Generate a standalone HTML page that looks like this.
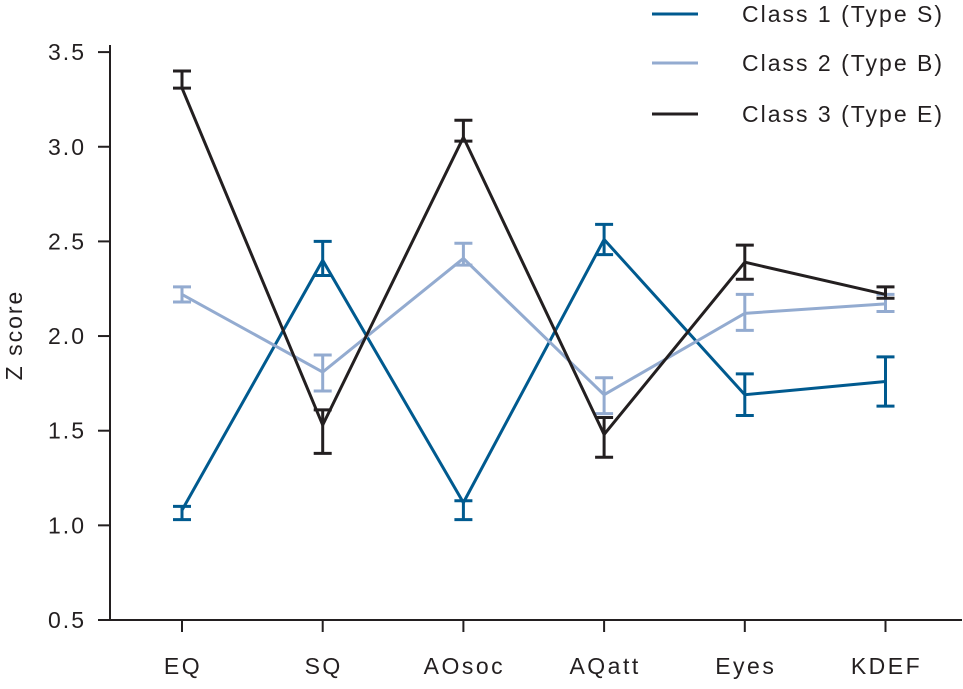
<!DOCTYPE html>
<html><head><meta charset="utf-8"><style>
body{margin:0;background:#fff}
svg text{font-family:"Liberation Sans",sans-serif;fill:#231f20;letter-spacing:2px}
</style></head><body>
<svg id="chart" width="963" height="684"></svg>
<script>
const categories=["EQ","SQ","AOsoc","AQatt","Eyes","KDEF"];
const yTicks=[0.5,1.0,1.5,2.0,2.5,3.0,3.5];
const seriesNames=["Class 1 (Type S)","Class 2 (Type B)","Class 3 (Type E)"];
const class1=[1.08,2.40,1.12,2.51,1.69,1.76];
const class1Lo=[1.03,2.32,1.03,2.43,1.58,1.63];
const class1Hi=[1.10,2.50,1.13,2.59,1.80,1.89];
const class2=[2.22,1.81,2.41,1.69,2.12,2.17];
const class2Lo=[2.18,1.71,2.375,1.59,2.03,2.13];
const class2Hi=[2.26,1.90,2.49,1.78,2.22,2.22];
const class3=[3.31,1.53,3.05,1.48,2.39,2.22];
const class3Lo=[3.31,1.38,3.03,1.36,2.30,2.20];
const class3Hi=[3.40,1.61,3.14,1.57,2.48,2.26];
const colors=["#005a8f","#93abd0","#231f20"];
const NS="http://www.w3.org/2000/svg";
const svg=document.getElementById('chart');
const y=v=>620-(v-0.5)*189.3;
const x=i=>182+i*140.7;
function mk(t,a,parent){const e=document.createElementNS(NS,t);for(const k in a)e.setAttribute(k,a[k]);(parent||svg).appendChild(e);return e;}
let ax=mk('line',{x1:110,y1:45,x2:110,y2:621,stroke:'#231f20','stroke-width':2});


let xa=mk('line',{x1:109,y1:620,x2:962,y2:620,stroke:'#231f20','stroke-width':2});


yTicks.forEach(v=>{
 const t=mk('line',{x1:98,y1:y(v),x2:110,y2:y(v),stroke:'#231f20','stroke-width':2});
 
 
 const l=mk('text',{x:86,y:y(v)+8,'text-anchor':'end','font-size':23});
 l.textContent=v.toFixed(1);
 
 
});
categories.forEach((c,i)=>{
 const t=mk('line',{x1:x(i),y1:620,x2:x(i),y2:632,stroke:'#231f20','stroke-width':2});
 
 
 const l=mk('text',{x:x(i)+1,y:674,'text-anchor':'middle','font-size':23,style:'letter-spacing:2.5px'});
 l.textContent=c;
 
 
});
const yt=mk('text',{x:0,y:0,'text-anchor':'middle','font-size':23,transform:'translate(22,335) rotate(-90)'});
yt.textContent='Z score';


const data=[[class1,class1Lo,class1Hi],[class2,class2Lo,class2Hi],[class3,class3Lo,class3Hi]];
data.forEach((d,s)=>{
 const g=mk('g',{});
 
 
 const pts=d[0].map((v,i)=>x(i)+','+y(v)).join(' ');
 const pl=mk('polyline',{points:pts,fill:'none',stroke:colors[s],'stroke-width':3},g);
 
 
 d[0].forEach((v,i)=>{
  const eb=mk('path',{d:`M${x(i)},${y(d[1][i])}V${y(d[2][i])}M${x(i)-9},${y(d[1][i])}h18M${x(i)-9},${y(d[2][i])}h18`,stroke:colors[s],'stroke-width':3,fill:'none'},g);
  
  
 });
});
seriesNames.forEach((n,s)=>{
 const yy=[14,63,114][s];
 const g=mk('g',{});
 
 
 mk('line',{x1:652,y1:yy,x2:698,y2:yy,stroke:colors[s],'stroke-width':3},g);
 const t=mk('text',{x:742,y:yy+8,'font-size':23},g);
 t.textContent=n;
});
</script>
</body></html>
